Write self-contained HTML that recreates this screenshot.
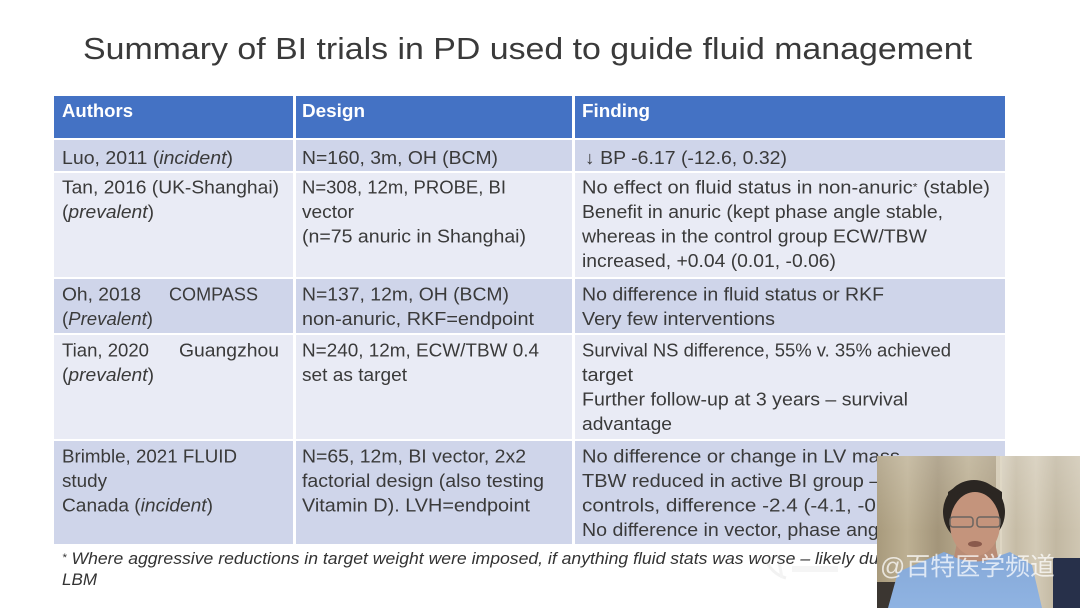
<!DOCTYPE html>
<html>
<head>
<meta charset="utf-8">
<style>
  html,body{margin:0;padding:0;background:#fff;}
  svg{display:block;}
  text{font-family:"Liberation Sans","Noto Sans CJK SC",sans-serif;}
  .b{font-size:18px;fill:#3a3a3a;}
  .h{font-size:18px;fill:#fff;font-weight:bold;}
  .f{font-size:16.5px;fill:#333;font-style:italic;}
</style>
</head>
<body>
<svg width="1080" height="608" viewBox="0 0 1080 608" xmlns="http://www.w3.org/2000/svg">
  <rect x="0" y="0" width="1080" height="608" fill="#ffffff"/>

  <!-- Title -->
  <text x="83" y="59" font-size="31" fill="#3a3a3a" textLength="889" lengthAdjust="spacingAndGlyphs">Summary of BI trials in PD used to guide fluid management</text>

  <!-- header -->
  <rect x="54" y="96" width="239" height="42" fill="#4472C4"/>
  <rect x="296" y="96" width="276" height="42" fill="#4472C4"/>
  <rect x="575" y="96" width="430" height="42" fill="#4472C4"/>
  <!-- row1 -->
  <rect x="54" y="140" width="239" height="31" fill="#CFD5EA"/>
  <rect x="296" y="140" width="276" height="31" fill="#CFD5EA"/>
  <rect x="575" y="140" width="430" height="31" fill="#CFD5EA"/>
  <!-- row2 -->
  <rect x="54" y="173" width="239" height="104" fill="#E9EBF5"/>
  <rect x="296" y="173" width="276" height="104" fill="#E9EBF5"/>
  <rect x="575" y="173" width="430" height="104" fill="#E9EBF5"/>
  <!-- row3 -->
  <rect x="54" y="279" width="239" height="54" fill="#CFD5EA"/>
  <rect x="296" y="279" width="276" height="54" fill="#CFD5EA"/>
  <rect x="575" y="279" width="430" height="54" fill="#CFD5EA"/>
  <!-- row4 -->
  <rect x="54" y="335" width="239" height="104" fill="#E9EBF5"/>
  <rect x="296" y="335" width="276" height="104" fill="#E9EBF5"/>
  <rect x="575" y="335" width="430" height="104" fill="#E9EBF5"/>
  <!-- row5 -->
  <rect x="54" y="441" width="239" height="103" fill="#CFD5EA"/>
  <rect x="296" y="441" width="276" height="103" fill="#CFD5EA"/>
  <rect x="575" y="441" width="430" height="103" fill="#CFD5EA"/>

  <!-- Header text -->
  <text class="h" x="62" y="117" textLength="71" lengthAdjust="spacingAndGlyphs">Authors</text>
  <text class="h" x="302" y="117" textLength="63" lengthAdjust="spacingAndGlyphs">Design</text>
  <text class="h" x="582" y="117" textLength="68" lengthAdjust="spacingAndGlyphs">Finding</text>

  <!-- Row 1 -->
  <text class="b" x="62" y="164" textLength="171" lengthAdjust="spacingAndGlyphs">Luo, 2011 (<tspan font-style="italic">incident</tspan>)</text>
  <text class="b" x="302" y="164" textLength="196" lengthAdjust="spacingAndGlyphs">N=160, 3m, OH (BCM)</text>
  <text class="b" x="585" y="164" textLength="202" lengthAdjust="spacingAndGlyphs">↓ BP -6.17 (-12.6, 0.32)</text>

  <!-- Row 2 -->
  <text class="b" x="62" y="193.5" textLength="217" lengthAdjust="spacingAndGlyphs">Tan, 2016 (UK-Shanghai)</text>
  <text class="b" x="62" y="218" textLength="92" lengthAdjust="spacingAndGlyphs">(<tspan font-style="italic">prevalent</tspan>)</text>
  <text class="b" x="302" y="193.5" textLength="204" lengthAdjust="spacingAndGlyphs">N=308, 12m, PROBE, BI</text>
  <text class="b" x="302" y="218" textLength="52" lengthAdjust="spacingAndGlyphs">vector</text>
  <text class="b" x="302" y="242.5" textLength="224" lengthAdjust="spacingAndGlyphs">(n=75 anuric in Shanghai)</text>
  <text class="b" x="582" y="193.5" textLength="408" lengthAdjust="spacingAndGlyphs">No effect on fluid status in non-anuric<tspan font-size="11" dy="-3">*</tspan><tspan dy="3"> (stable)</tspan></text>
  <text class="b" x="582" y="218" textLength="361" lengthAdjust="spacingAndGlyphs">Benefit in anuric (kept phase angle stable,</text>
  <text class="b" x="582" y="242.5" textLength="345" lengthAdjust="spacingAndGlyphs">whereas in the control group ECW/TBW</text>
  <text class="b" x="582" y="267" textLength="254" lengthAdjust="spacingAndGlyphs">increased, +0.04 (0.01, -0.06)</text>

  <!-- Row 3 -->
  <text class="b" x="62" y="300.5" textLength="79" lengthAdjust="spacingAndGlyphs">Oh, 2018</text>
  <text class="b" x="169" y="300.5" textLength="89" lengthAdjust="spacingAndGlyphs">COMPASS</text>
  <text class="b" x="62" y="325" textLength="91" lengthAdjust="spacingAndGlyphs">(<tspan font-style="italic">Prevalent</tspan>)</text>
  <text class="b" x="302" y="300.5" textLength="207" lengthAdjust="spacingAndGlyphs">N=137, 12m, OH (BCM)</text>
  <text class="b" x="302" y="325" textLength="232" lengthAdjust="spacingAndGlyphs">non-anuric, RKF=endpoint</text>
  <text class="b" x="582" y="300.5" textLength="302" lengthAdjust="spacingAndGlyphs">No difference in fluid status or RKF</text>
  <text class="b" x="582" y="325" textLength="193" lengthAdjust="spacingAndGlyphs">Very few interventions</text>

  <!-- Row 4 -->
  <text class="b" x="62" y="356.5" textLength="87" lengthAdjust="spacingAndGlyphs">Tian, 2020</text>
  <text class="b" x="179" y="356.5" textLength="100" lengthAdjust="spacingAndGlyphs">Guangzhou</text>
  <text class="b" x="62" y="381" textLength="92" lengthAdjust="spacingAndGlyphs">(<tspan font-style="italic">prevalent</tspan>)</text>
  <text class="b" x="302" y="356.5" textLength="237" lengthAdjust="spacingAndGlyphs">N=240, 12m, ECW/TBW 0.4</text>
  <text class="b" x="302" y="381" textLength="105" lengthAdjust="spacingAndGlyphs">set as target</text>
  <text class="b" x="582" y="356.5" textLength="369" lengthAdjust="spacingAndGlyphs">Survival NS difference, 55% v. 35% achieved</text>
  <text class="b" x="582" y="381" textLength="51" lengthAdjust="spacingAndGlyphs">target</text>
  <text class="b" x="582" y="405.5" textLength="326" lengthAdjust="spacingAndGlyphs">Further follow-up at 3 years – survival</text>
  <text class="b" x="582" y="430" textLength="90" lengthAdjust="spacingAndGlyphs">advantage</text>

  <!-- Row 5 -->
  <text class="b" x="62" y="462.5" textLength="175" lengthAdjust="spacingAndGlyphs">Brimble, 2021 FLUID</text>
  <text class="b" x="62" y="487" textLength="45" lengthAdjust="spacingAndGlyphs">study</text>
  <text class="b" x="62" y="511.5" textLength="151" lengthAdjust="spacingAndGlyphs">Canada (<tspan font-style="italic">incident</tspan>)</text>
  <text class="b" x="302" y="462.5" textLength="224" lengthAdjust="spacingAndGlyphs">N=65, 12m, BI vector, 2x2</text>
  <text class="b" x="302" y="487" textLength="242" lengthAdjust="spacingAndGlyphs">factorial design (also testing</text>
  <text class="b" x="302" y="511.5" textLength="228" lengthAdjust="spacingAndGlyphs">Vitamin D). LVH=endpoint</text>
  <text class="b" x="582" y="462.5" textLength="318" lengthAdjust="spacingAndGlyphs">No difference or change in LV mass</text>
  <text class="b" x="582" y="487" textLength="324" lengthAdjust="spacingAndGlyphs">TBW reduced in active BI group – vs</text>
  <text class="b" x="582" y="511.5" textLength="318" lengthAdjust="spacingAndGlyphs">controls, difference -2.4 (-4.1, -0.6)</text>
  <text class="b" x="582" y="536" textLength="312" lengthAdjust="spacingAndGlyphs">No difference in vector, phase angle</text>

  <!-- Footnote -->
  <text class="f" x="62" y="564" textLength="846" lengthAdjust="spacingAndGlyphs"><tspan font-size="11" dy="-3">*</tspan><tspan dy="3"> Where aggressive reductions in target weight were imposed, if anything fluid stats was worse – likely due to</tspan></text>
  <text class="f" x="62" y="585" textLength="35" lengthAdjust="spacingAndGlyphs">LBM</text>

  <!-- faint watermark logo -->
  <g opacity="0.18">
    <path d="M766 560 q6 14 20 18" stroke="#bbbbbb" stroke-width="3" fill="none"/>
    <path d="M778 556 l4 22" stroke="#c4c4c4" stroke-width="3" fill="none"/>
    <rect x="792" y="566" width="46" height="6" fill="#cccccc"/>
  </g>

  <!-- Video overlay -->
  <defs>
    <linearGradient id="cur1" x1="0" y1="0" x2="1" y2="0">
      <stop offset="0" stop-color="#a89a7c"/>
      <stop offset="0.15" stop-color="#bdb093"/>
      <stop offset="0.3" stop-color="#a3957a"/>
      <stop offset="0.45" stop-color="#baad90"/>
      <stop offset="0.6" stop-color="#a99b80"/>
      <stop offset="0.75" stop-color="#b8ab8f"/>
      <stop offset="1" stop-color="#ab9e83"/>
    </linearGradient>
    <linearGradient id="cur2" x1="0" y1="0" x2="1" y2="0">
      <stop offset="0" stop-color="#d7cfbd"/>
      <stop offset="0.2" stop-color="#c6bca6"/>
      <stop offset="0.45" stop-color="#d3cab6"/>
      <stop offset="0.7" stop-color="#c2b8a2"/>
      <stop offset="1" stop-color="#cfc6b2"/>
    </linearGradient>
    <linearGradient id="vtop" x1="0" y1="0" x2="0" y2="1">
      <stop offset="0" stop-color="#ffffff" stop-opacity="0.18"/>
      <stop offset="0.5" stop-color="#ffffff" stop-opacity="0"/>
    </linearGradient>
    <linearGradient id="shirt" x1="0" y1="0" x2="0" y2="1">
      <stop offset="0" stop-color="#86a9d8"/>
      <stop offset="1" stop-color="#8fb3e2"/>
    </linearGradient>
    <clipPath id="vclip"><rect x="877" y="456" width="203" height="152"/></clipPath>
  </defs>
  <g clip-path="url(#vclip)">
    <rect x="877" y="456" width="203" height="152" fill="url(#cur1)"/>
    <rect x="1000" y="456" width="80" height="152" fill="url(#cur2)"/>
    <rect x="877" y="456" width="203" height="152" fill="url(#vtop)"/>
    <rect x="996" y="456" width="6" height="110" fill="#e0d8c6" opacity="0.8"/>
    <!-- right dark panel -->
    <rect x="1053" y="558" width="27" height="50" fill="#27304a"/>
    <!-- bottom-left dark -->
    <rect x="877" y="582" width="22" height="26" fill="#3b3631"/>
    <!-- shirt -->
    <path d="M944 552 Q975 566 1010 552 L1032 565 L1042 608 L888 608 L898 572 Z" fill="url(#shirt)"/>
    <!-- neck -->
    <path d="M958 538 L994 538 L998 557 Q975 566 954 557 Z" fill="#b98c76"/>
    <!-- hair -->
    <ellipse cx="974" cy="512" rx="31" ry="32" fill="#2b2622"/>
    <!-- face -->
    <ellipse cx="975" cy="524" rx="25" ry="32" fill="#c4947c"/>
    <path d="M948 500 Q975 478 1002 500 L1002 492 Q975 472 948 492 Z" fill="#2b2622"/>
    <!-- glasses -->
    <rect x="950" y="517" width="23" height="10" rx="3" fill="none" stroke="#6a6560" stroke-width="1.5"/>
    <rect x="977" y="517" width="23" height="10" rx="3" fill="none" stroke="#6a6560" stroke-width="1.5"/>
    <!-- mouth -->
    <ellipse cx="975" cy="544" rx="7" ry="3" fill="#8a5a4c"/>
    <!-- watermark -->
    <text x="880" y="575" font-size="25" fill="#ffffff" fill-opacity="0.72" textLength="175" lengthAdjust="spacingAndGlyphs" style="font-family:'Liberation Sans','Noto Sans CJK SC',sans-serif;">@百特医学频道</text>
  </g>
</svg>
</body>
</html>
